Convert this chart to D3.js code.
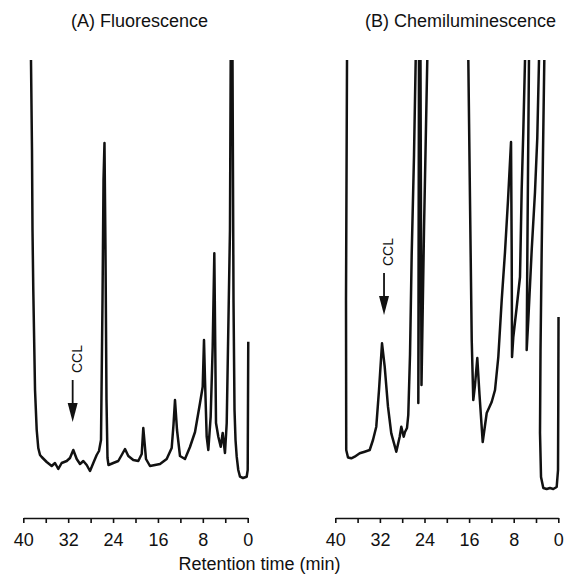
<!DOCTYPE html>
<html>
<head>
<meta charset="utf-8">
<script src="https://cdn.jsdelivr.net/npm/d3@7"></script>
<style>
  body { margin: 0; background: #fff; }
  text { font-family: "Liberation Sans", Arial, Helvetica, sans-serif; fill: #111; }
</style>
</head>
<body>
<svg width="566" height="575"></svg>
<script>
const width = 566
const height = 575

// axis ticks (retention time, min)
const tickValues = [40, 36, 32, 28, 24, 20, 16, 12, 8, 4, 0]
const tickLabels = [40, 32, 24, 16, 8, 0]

// panel titles
const titles = ["(A) Fluorescence", "(B) Chemiluminescence"]

// traces: [retention time (min), detector response (rel. units)], null = pen off scale
const traceA = [
  [38.63, 43], [38.45, 34], [38.36, 26], [38.22, 20], [37.91, 10], [37.61, 6], [37.33, 4.2],
  [37.02, 3.5], [36.72, 3.3], [35.83, 2.8], [34.94, 2.4], [34.35, 2.7], [33.76, 2.1], [33.16, 2.7],
  [32.26, 2.9], [31.68, 3.2], [31.09, 4.0], [30.48, 3.1], [29.89, 2.6], [29.30, 2.9], [28.70, 2.5],
  [28.11, 1.9], [27.52, 2.7], [26.92, 3.5], [26.51, 3.9], [26.15, 5.0], [25.88, 19], [25.70, 31],
  [25.53, 34.7], [25.35, 24], [25.17, 9], [24.99, 3.2], [24.81, 2.5], [23.96, 2.7], [23.07, 2.9],
  [22.46, 3.5], [21.87, 4.1], [21.28, 3.4], [20.39, 3.0], [19.50, 2.9], [18.89, 3.6], [18.61, 6.2],
  [18.13, 3.1], [17.42, 2.4], [16.52, 2.5], [15.63, 2.6], [14.44, 3.1], [13.55, 4.2], [13.23, 6.5],
  [12.96, 9.0], [12.60, 6.0], [12.07, 3.4], [11.18, 3.1], [10.29, 4.3], [9.39, 5.8], [8.50, 8.7],
  [8.02, 10.33], [7.79, 15.0], [7.61, 11.0], [7.31, 5.33], [7.02, 4.0], [6.60, 7.33], [6.24, 14.33],
  [5.95, 23.67], [5.65, 6.7], [5.24, 5.33], [4.81, 4.33], [4.46, 5.7], [4.05, 3.7], [3.74, 6.7],
  [3.46, 16.0], [3.16, 26.0], [3.03, 43], [2.9, null],
  [2.71, 43], [2.53, 19], [2.35, 8], [2.17, 5], [1.96, 3.33], [1.68, 2.0], [1.37, 1.33],
  [0.84, 1.2], [0.18, 1.33], [0.0, 2.0], [-0.1, 14.83]
]

const traceB = [
  [37.90, 43], [38.08, 19], [38.04, 4.0], [37.72, 3.25], [37.13, 3.17], [36.52, 3.33], [35.62, 3.67],
  [34.73, 3.83], [33.83, 4.0], [33.24, 5.0], [32.65, 6.33], [32.16, 10.0], [31.62, 14.67], [31.14, 12.33],
  [30.55, 8.33], [29.96, 5.67], [29.06, 3.83], [28.45, 5.33], [28.16, 6.33], [27.73, 5.33], [27.50, 5.8],
  [27.14, 6.2], [26.91, 7.5], [26.60, 13.5], [26.30, 23.5], [25.88, 33.5], [25.58, 43], [25.3, null],
  [24.99, 43], [25.11, 8.7], [24.86, 43], [24.8, null],
  [24.72, 43], [24.54, 10.5], [24.09, 26], [23.50, 43], [20, null],
  [16.14, 43], [15.84, 29], [15.53, 15], [15.25, 9], [14.94, 10.5], [14.53, 13.2], [14.13, 9.5],
  [13.56, 4.8], [12.84, 7.7], [11.95, 8.8], [11.35, 10], [10.76, 13.3], [10.15, 19], [9.56, 23.8],
  [9.02, 29], [8.48, 34.8], [8.36, 24], [8.30, 13.3], [8.07, 15.3], [7.46, 18.3], [6.87, 21.3],
  [6.57, 30], [6.28, 35.8], [5.97, 43], [5.6, null],
  [5.26, 43], [5.43, 32], [5.56, 23], [5.67, 14], [5.38, 17], [4.77, 24], [4.18, 29.8], [3.77, 35.2],
  [3.46, 43], [3.0, null],
  [2.51, 43], [2.74, 34], [2.98, 24], [3.19, 14], [3.28, 5.7], [3.10, 1.3], [2.69, 0.2], [2.08, 0.1],
  [1.49, 0.2], [0.90, 0.1], [0.29, 0.3], [0.05, 2.0], [0.0, 9], [-0.04, 17.3]
]

// CCL marker: [time, arrow top, arrow tip] in response units
const cclA = [31.2, 11.0, 6.8]
const cclB = [31.26, 21.7, 17.5]

const svg = d3.select("svg")

const panels = [
  { x0: 23.3, x1: 247.7, trace: traceA, ccl: cclA, title: titles[0], titleX: 139.5 },
  { x0: 335.3, x1: 558.3, trace: traceB, ccl: cclB, title: titles[1], titleX: 460.5 }
]

const yScale = d3.scaleLinear().domain([0, 43]).range([490, 60])
const axisY = 518

svg.append("clipPath").attr("id", "clip")
  .append("rect").attr("x", 0).attr("y", 60).attr("width", width).attr("height", height - 60)

panels.forEach(function(p) {
  const xScale = d3.scaleLinear().domain([40, 0]).range([p.x0, p.x1])

  // title
  svg.append("text")
    .attr("x", p.titleX).attr("y", 27)
    .attr("text-anchor", "middle")
    .style("font-size", "18px")
    .text(p.title)

  // trace
  const line = d3.line()
    .defined(d => d[1] != null)
    .x(d => xScale(d[0]))
    .y(d => yScale(d[1]))

  svg.append("path")
    .datum(p.trace)
    .attr("clip-path", "url(#clip)")
    .attr("fill", "none")
    .attr("stroke", "#111")
    .attr("stroke-width", 2.5)
    .attr("stroke-linejoin", "round")
    .attr("d", line)

  // axis
  const axis = d3.axisBottom(xScale)
    .tickValues(tickValues)
    .tickFormat(d => tickLabels.includes(d) ? d : "")
    .tickSize(5)
    .tickSizeOuter(0)
    .tickPadding(10)
  const g = svg.append("g")
    .attr("transform", "translate(0," + axisY + ")")
    .call(axis)
  g.select(".domain").attr("stroke", "#111").attr("stroke-width", 1.6)
  g.selectAll(".tick line").attr("stroke", "#111").attr("stroke-width", 1.6)
  g.selectAll(".tick text")
    .style("font-size", "18px")
    .style("font-family", "\"Liberation Sans\", Arial, sans-serif")
    .attr("fill", "#111")

  // CCL arrow + label
  const ax = xScale(p.ccl[0])
  const yTop = yScale(p.ccl[1])
  const yTip = yScale(p.ccl[2])
  const headLen = 19
  svg.append("line")
    .attr("x1", ax).attr("x2", ax)
    .attr("y1", yTop).attr("y2", yTip - headLen + 1)
    .attr("stroke", "#111").attr("stroke-width", 1.8)
  svg.append("path")
    .attr("d", "M" + (ax - 5) + "," + (yTip - headLen) + " L" + (ax + 5) + "," + (yTip - headLen) + " L" + ax + "," + yTip + " Z")
    .attr("fill", "#111")
  svg.append("text")
    .attr("transform", "translate(" + (ax + 9) + "," + (yTop - 21) + ") rotate(-90)")
    .attr("text-anchor", "middle")
    .style("font-size", "14px")
    .text("CCL")
})

// shared axis title
svg.append("text")
  .attr("x", 259.5).attr("y", 570)
  .attr("text-anchor", "middle")
  .style("font-size", "18px")
  .text("Retention time (min)")
</script>
</body>
</html>
